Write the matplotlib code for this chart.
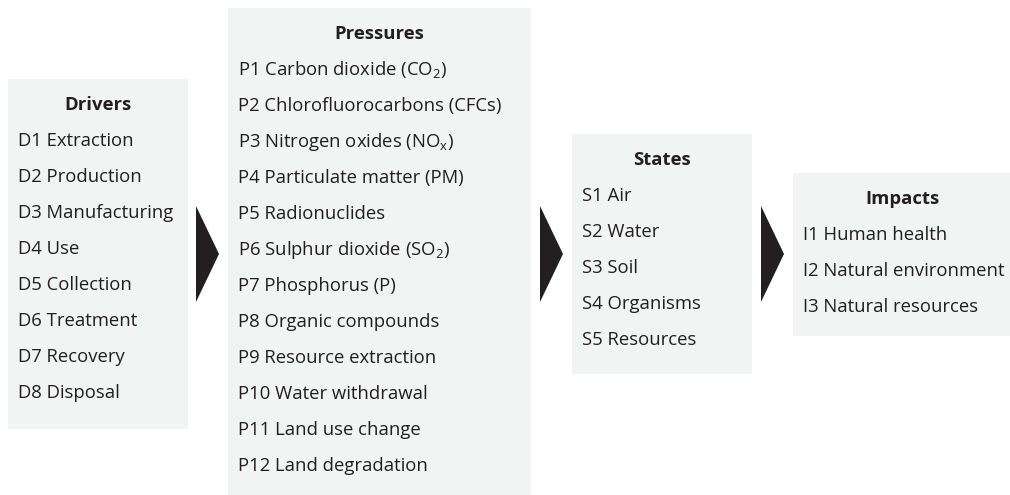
import matplotlib.pyplot as plt
from matplotlib.patches import Rectangle, Polygon

plt.rcParams['font.family'] = ['Open Sans', 'DejaVu Sans']
plt.rcParams['mathtext.fontset'] = 'custom'
plt.rcParams['mathtext.rm'] = 'Open Sans'
plt.rcParams['mathtext.it'] = 'Open Sans'

# box contents
titles = ['Drivers', 'Pressures', 'States', 'Impacts']
drivers = ['D1 Extraction', 'D2 Production', 'D3 Manufacturing', 'D4 Use',
           'D5 Collection', 'D6 Treatment', 'D7 Recovery', 'D8 Disposal']
pressures = ['P1 Carbon dioxide (CO$_2$)', 'P2 Chlorofluorocarbons (CFCs)',
             'P3 Nitrogen oxides (NO$_x$)', 'P4 Particulate matter (PM)',
             'P5 Radionuclides', 'P6 Sulphur dioxide (SO$_2$)', 'P7 Phosphorus (P)',
             'P8 Organic compounds', 'P9 Resource extraction',
             'P10 Water withdrawal', 'P11 Land use change', 'P12 Land degradation']
states = ['S1 Air', 'S2 Water', 'S3 Soil', 'S4 Organisms', 'S5 Resources']
impacts = ['I1 Human health', 'I2 Natural environment', 'I3 Natural resources']
items = [drivers, pressures, states, impacts]

# layout in pixels: (left, right, top, bottom)
boxes = [(8, 188, 79, 429), (228, 531, 8, 497), (572, 752, 134, 374), (793, 1012, 173, 336)]
arrows_x = [196, 540, 761]

bg = '#f2f3f3'
ink = '#231f20'
step = 36
fs = 13.3

fig = plt.figure(figsize=(10.1, 4.95), dpi=100)
ax = fig.add_axes([0, 0, 1, 1])
ax.set_xlim(0, 1010)
ax.set_ylim(495, 0)
ax.axis('off')

for (l, r, t, b), title, lines in zip(boxes, titles, items):
    ax.add_patch(Rectangle((l, t), r - l, b - t, facecolor=bg, edgecolor='none'))
    y0 = t + 26
    ax.text((l + r) / 2, y0, title, ha='center', va='center', fontsize=fs,
            fontweight='bold', color=ink)
    for i, s in enumerate(lines):
        ax.text(l + 10, y0 + step * (i + 1), s, ha='left', va='center',
                fontsize=fs, color=ink)

for x in arrows_x:
    ax.add_patch(Polygon([(x, 206), (x + 23, 254), (x, 302)], closed=True,
                         facecolor=ink, edgecolor='none'))

fig.savefig('out.png', dpi=100, facecolor='white')
